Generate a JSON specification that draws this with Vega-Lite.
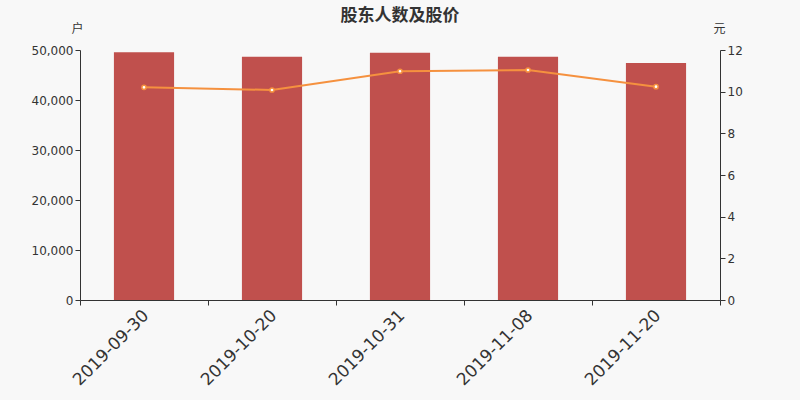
{
  "$schema": "https://vega.github.io/schema/vega-lite/v6.json",
  "width": 640,
  "height": 250,
  "autosize": {"type": "none"},
  "padding": {"left": 80, "top": 50, "right": 80, "bottom": 100},
  "background": "#f8f8f8",
  "title": {
    "text": "股东人数及股价",
    "font": "Noto Sans CJK SC",
    "fontSize": 17,
    "fontWeight": "bold",
    "color": "#333333",
    "anchor": "middle",
    "offset": -3
  },
  "config": {
    "view": {"stroke": null},
    "axis": {
      "labelFont": "DejaVu Sans",
      "labelColor": "#333333",
      "domainColor": "#333333",
      "tickColor": "#333333",
      "titleFont": "Noto Sans CJK SC",
      "titleColor": "#333333",
      "titleFontWeight": "normal",
      "grid": false
    }
  },
  "data": {
    "values": [
      {"date": "2019-09-30", "holders": 49540, "price": 10.21},
      {"date": "2019-10-20", "holders": 48670, "price": 10.08},
      {"date": "2019-10-31", "holders": 49470, "price": 10.98},
      {"date": "2019-11-08", "holders": 48670, "price": 11.04},
      {"date": "2019-11-20", "holders": 47400, "price": 10.24}
    ]
  },
  "encoding": {
    "x": {
      "field": "date",
      "type": "nominal",
      "sort": null,
      "scale": {"paddingInner": 0, "paddingOuter": 0},
      "axis": {
        "title": null,
        "labelAngle": -45,
        "labelAlign": "right",
        "labelBaseline": "top",
        "labelFontSize": 17,
        "labelPadding": 2,
        "labelOffset": -4,
        "tickBand": "extent",
        "tickSize": 5
      }
    }
  },
  "layer": [
    {
      "mark": {"type": "bar", "color": "#c0504d", "width": {"band": 0.47}},
      "encoding": {
        "y": {
          "field": "holders",
          "type": "quantitative",
          "scale": {"domain": [0, 50000], "nice": false},
          "axis": {
            "title": "户",
            "titleAngle": 0,
            "titleX": -3,
            "titleY": -22,
            "titleAlign": "center",
            "titleBaseline": "middle",
            "titleFontSize": 12,
            "values": [0, 10000, 20000, 30000, 40000, 50000],
            "format": ",.0f",
            "labelFontSize": 12,
            "tickSize": 5
          }
        }
      }
    },
    {
      "mark": {
        "type": "line",
        "color": "#f5913f",
        "strokeWidth": 2,
        "point": {"filled": true, "fill": "#ffffff", "stroke": "#f5913f", "strokeWidth": 1.5, "size": 18}
      },
      "encoding": {
        "y": {
          "field": "price",
          "type": "quantitative",
          "scale": {"domain": [0, 12], "nice": false},
          "axis": {
            "orient": "right",
            "title": "元",
            "titleAngle": 0,
            "titleX": -1,
            "titleY": -22,
            "titleAlign": "center",
            "titleBaseline": "middle",
            "titleFontSize": 12,
            "values": [0, 2, 4, 6, 8, 10, 12],
            "labelFontSize": 12,
            "tickSize": 5
          }
        }
      }
    }
  ],
  "resolve": {"scale": {"y": "independent"}}
}
